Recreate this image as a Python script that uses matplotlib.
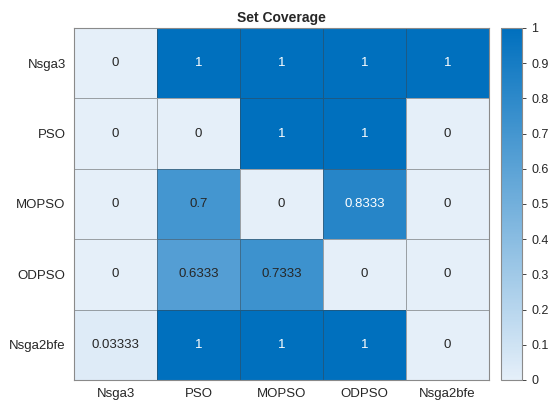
import numpy as np
import matplotlib.pyplot as plt
from matplotlib.colors import LinearSegmentedColormap

plt.rcParams['font.family'] = ['Liberation Sans', 'DejaVu Sans']

# Алгоритми та значення покриття
algos = ['Nsga3', 'PSO', 'MOPSO', 'ODPSO', 'Nsga2bfe']
coverage = np.array([
    [0, 1, 1, 1, 1],
    [0, 0, 1, 1, 0],
    [0, 0.7, 0, 0.8333, 0],
    [0, 0.6333, 0.7333, 0, 0],
    [0.03333, 1, 1, 1, 0],
])
labels = [
    ['0', '1', '1', '1', '1'],
    ['0', '0', '1', '1', '0'],
    ['0', '0.7', '0', '0.8333', '0'],
    ['0', '0.6333', '0.7333', '0', '0'],
    ['0.03333', '1', '1', '1', '0'],
]

cmap = LinearSegmentedColormap.from_list('sky', ['#E5EFF9', '#0070BE'])

fig = plt.figure(figsize=(5.54, 4.03), dpi=100)
ax = fig.add_axes([74 / 554, 1 - 380 / 403, 415 / 554, 352 / 403])
cax = fig.add_axes([501 / 554, 1 - 380 / 403, 21 / 554, 352 / 403])

mesh = ax.pcolormesh(coverage, cmap=cmap, vmin=0, vmax=1,
                     edgecolor=(0.25, 0.25, 0.25, 0.45), linewidth=0.7)
ax.set_xlim(0, 5)
ax.set_ylim(5, 0)
ax.set_xticks(np.arange(5) + 0.5)
ax.set_yticks(np.arange(5) + 0.5)
ax.set_xticklabels(algos, fontsize=9.5, color='#262626')
ax.set_yticklabels(algos, fontsize=9.5, color='#262626')
ax.tick_params(length=0, pad=6)
for s in ax.spines.values():
    s.set_color('#8a8a8a')
    s.set_linewidth(0.8)

for i in range(5):
    for j in range(5):
        v = coverage[i, j]
        col = 'white' if v > 0.8 else '#262626'
        ax.text(j + 0.5, i + 0.5, labels[i][j], ha='center', va='center',
                fontsize=9.5, color=col)

ax.set_title('Set Coverage', fontsize=10, fontweight='bold', color='#262626', pad=4)

cb = fig.colorbar(mesh, cax=cax, ticks=np.arange(0, 1.01, 0.1))
cb.ax.set_yticklabels(['0', '0.1', '0.2', '0.3', '0.4', '0.5', '0.6', '0.7', '0.8', '0.9', '1'])
cb.ax.tick_params(labelsize=9, colors='#262626', length=3, width=0.6)
cb.outline.set_edgecolor('#8a8a8a')
cb.outline.set_linewidth(0.8)

plt.savefig('out.png', dpi=100)
